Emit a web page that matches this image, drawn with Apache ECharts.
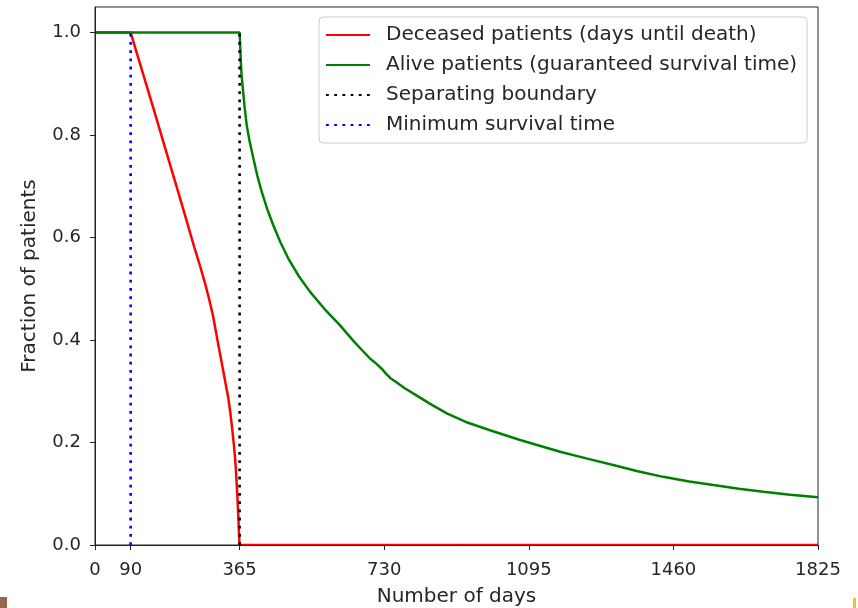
<!DOCTYPE html>
<html>
<head>
<meta charset="utf-8">
<script src="https://cdn.jsdelivr.net/npm/echarts@6/dist/echarts.min.js"></script>
<style>
  html, body { margin: 0; padding: 0; background: #fff; }
  #chart { width: 858px; height: 608px; }
</style>
</head>
<body>
<div id="chart"></div>
<script>
// [days, fraction]
const deceased = [
  [0, 1], [90, 1], [120, 0.923], [150, 0.846], [185, 0.754], [220, 0.663],
  [250, 0.583], [265, 0.545], [278, 0.51], [288, 0.48], [298, 0.447],
  [311, 0.392], [320, 0.355], [328, 0.322], [336, 0.289], [341, 0.262],
  [345, 0.236], [348, 0.214], [351, 0.192], [354, 0.165], [356, 0.142],
  [358, 0.115], [359.5, 0.094], [361, 0.068], [362.5, 0.042], [363.5, 0.022],
  [364.5, 0.006], [365, 0], [1825, 0]
]
const alive = [
  [0, 1], [365, 1], [366, 0.985], [367, 0.965], [368, 0.945], [370, 0.918],
  [372, 0.9], [374, 0.884], [378, 0.852], [383, 0.819], [390, 0.789],
  [400, 0.754], [410, 0.72], [421, 0.689], [435, 0.655], [450, 0.624],
  [468, 0.591], [488, 0.559], [515, 0.524], [543, 0.494], [580, 0.46],
  [618, 0.429], [655, 0.396], [694, 0.364], [710, 0.354], [725, 0.343],
  [735, 0.334], [745, 0.326], [760, 0.318], [780, 0.307], [803, 0.296],
  [845, 0.276], [888, 0.257], [940, 0.239], [997, 0.224], [1073, 0.205],
  [1174, 0.182], [1240, 0.169], [1308, 0.156], [1370, 0.144], [1434, 0.133],
  [1500, 0.124], [1561, 0.117], [1625, 0.11], [1687, 0.104], [1755, 0.098],
  [1825, 0.093]
]
const boundary = [[365, 0], [365, 1]]
const minSurvival = [[90, 0], [90, 1]]

const xTicks = [0, 90, 365, 730, 1095, 1460, 1825]
const yTicks = [0, 0.2, 0.4, 0.6, 0.8, 1.0]

const FONT = 'DejaVu Sans'
const INK = '#262626'
const dotted = [2.8, 5.4]

const chart = echarts.init(document.getElementById('chart'), null, { renderer: 'canvas' })

chart.setOption({
  animation: false,
  backgroundColor: '#fff',
  textStyle: { fontFamily: FONT },
  grid: {
    left: 95, right: 40, top: 7, bottom: 63,
    outerBoundsMode: 'none',
    show: true, borderColor: '#222', borderWidth: 1, backgroundColor: 'transparent'
  },
  legend: {
    left: 319, top: 17,
    orient: 'vertical',
    padding: [7, 10, 7, 6],
    itemGap: 8,
    itemWidth: 44,
    itemHeight: 14,
    backgroundColor: '#fff',
    borderColor: '#cccccc',
    borderWidth: 1,
    borderRadius: 4,
    itemStyle: { opacity: 0 },
    textStyle: { fontFamily: FONT, fontSize: 20, color: INK, lineHeight: 22, padding: [0, 0, 0, 11] },
    data: [
      'Deceased patients (days until death)',
      'Alive patients (guaranteed survival time)',
      'Separating boundary',
      'Minimum survival time'
    ]
  },
  xAxis: {
    type: 'value',
    min: 0, max: 1825,
    z: 3,
    name: 'Number of days',
    nameLocation: 'middle',
    nameGap: 42,
    nameTextStyle: { fontFamily: FONT, fontSize: 20, color: INK },
    axisLine: { lineStyle: { color: '#222', width: 1 } },
    axisTick: { show: true, length: 5, lineStyle: { color: '#222' }, customValues: xTicks },
    axisLabel: {
      margin: 16, fontFamily: FONT, fontSize: 18, color: INK,
      customValues: xTicks,
      formatter: v => String(v)
    },
    splitLine: { show: false }
  },
  yAxis: {
    type: 'value',
    min: 0, max: 1.05,
    z: 3,
    name: 'Fraction of patients',
    nameLocation: 'middle',
    nameGap: 55,
    nameTextStyle: { fontFamily: FONT, fontSize: 20, color: INK },
    axisLine: { show: true, lineStyle: { color: '#222', width: 1 } },
    axisTick: { show: true, length: 5, lineStyle: { color: '#222' }, customValues: yTicks },
    axisLabel: {
      margin: 14, fontFamily: FONT, fontSize: 18, color: INK,
      customValues: yTicks,
      formatter: v => v.toFixed(1)
    },
    splitLine: { show: false }
  },
  series: [
    {
      name: 'Deceased patients (days until death)',
      type: 'line', data: deceased, symbol: 'none',
      lineStyle: { color: '#ff0000', width: 2.5 }, itemStyle: { color: '#ff0000' }, z: 2
    },
    {
      name: 'Alive patients (guaranteed survival time)',
      type: 'line', data: alive, symbol: 'none',
      lineStyle: { color: '#008000', width: 2.5 }, itemStyle: { color: '#008000' }, z: 2
    },
    {
      name: 'Separating boundary',
      type: 'line', data: boundary, symbol: 'none',
      lineStyle: { color: '#000', width: 2.6, type: dotted }, itemStyle: { color: '#000' }, z: 2
    },
    {
      name: 'Minimum survival time',
      type: 'line', data: minSurvival, symbol: 'none',
      lineStyle: { color: '#0000ff', width: 2.6, type: dotted }, itemStyle: { color: '#0000ff' }, z: 2
    }
  ],
  graphic: [
    { type: 'rect', left: 0, top: 597, shape: { width: 7, height: 11 }, style: { fill: '#96654a' } },
    { type: 'rect', left: 853, top: 598, shape: { width: 3, height: 10 }, style: { fill: '#f2c12e' } }
  ]
})
</script>
</body>
</html>
